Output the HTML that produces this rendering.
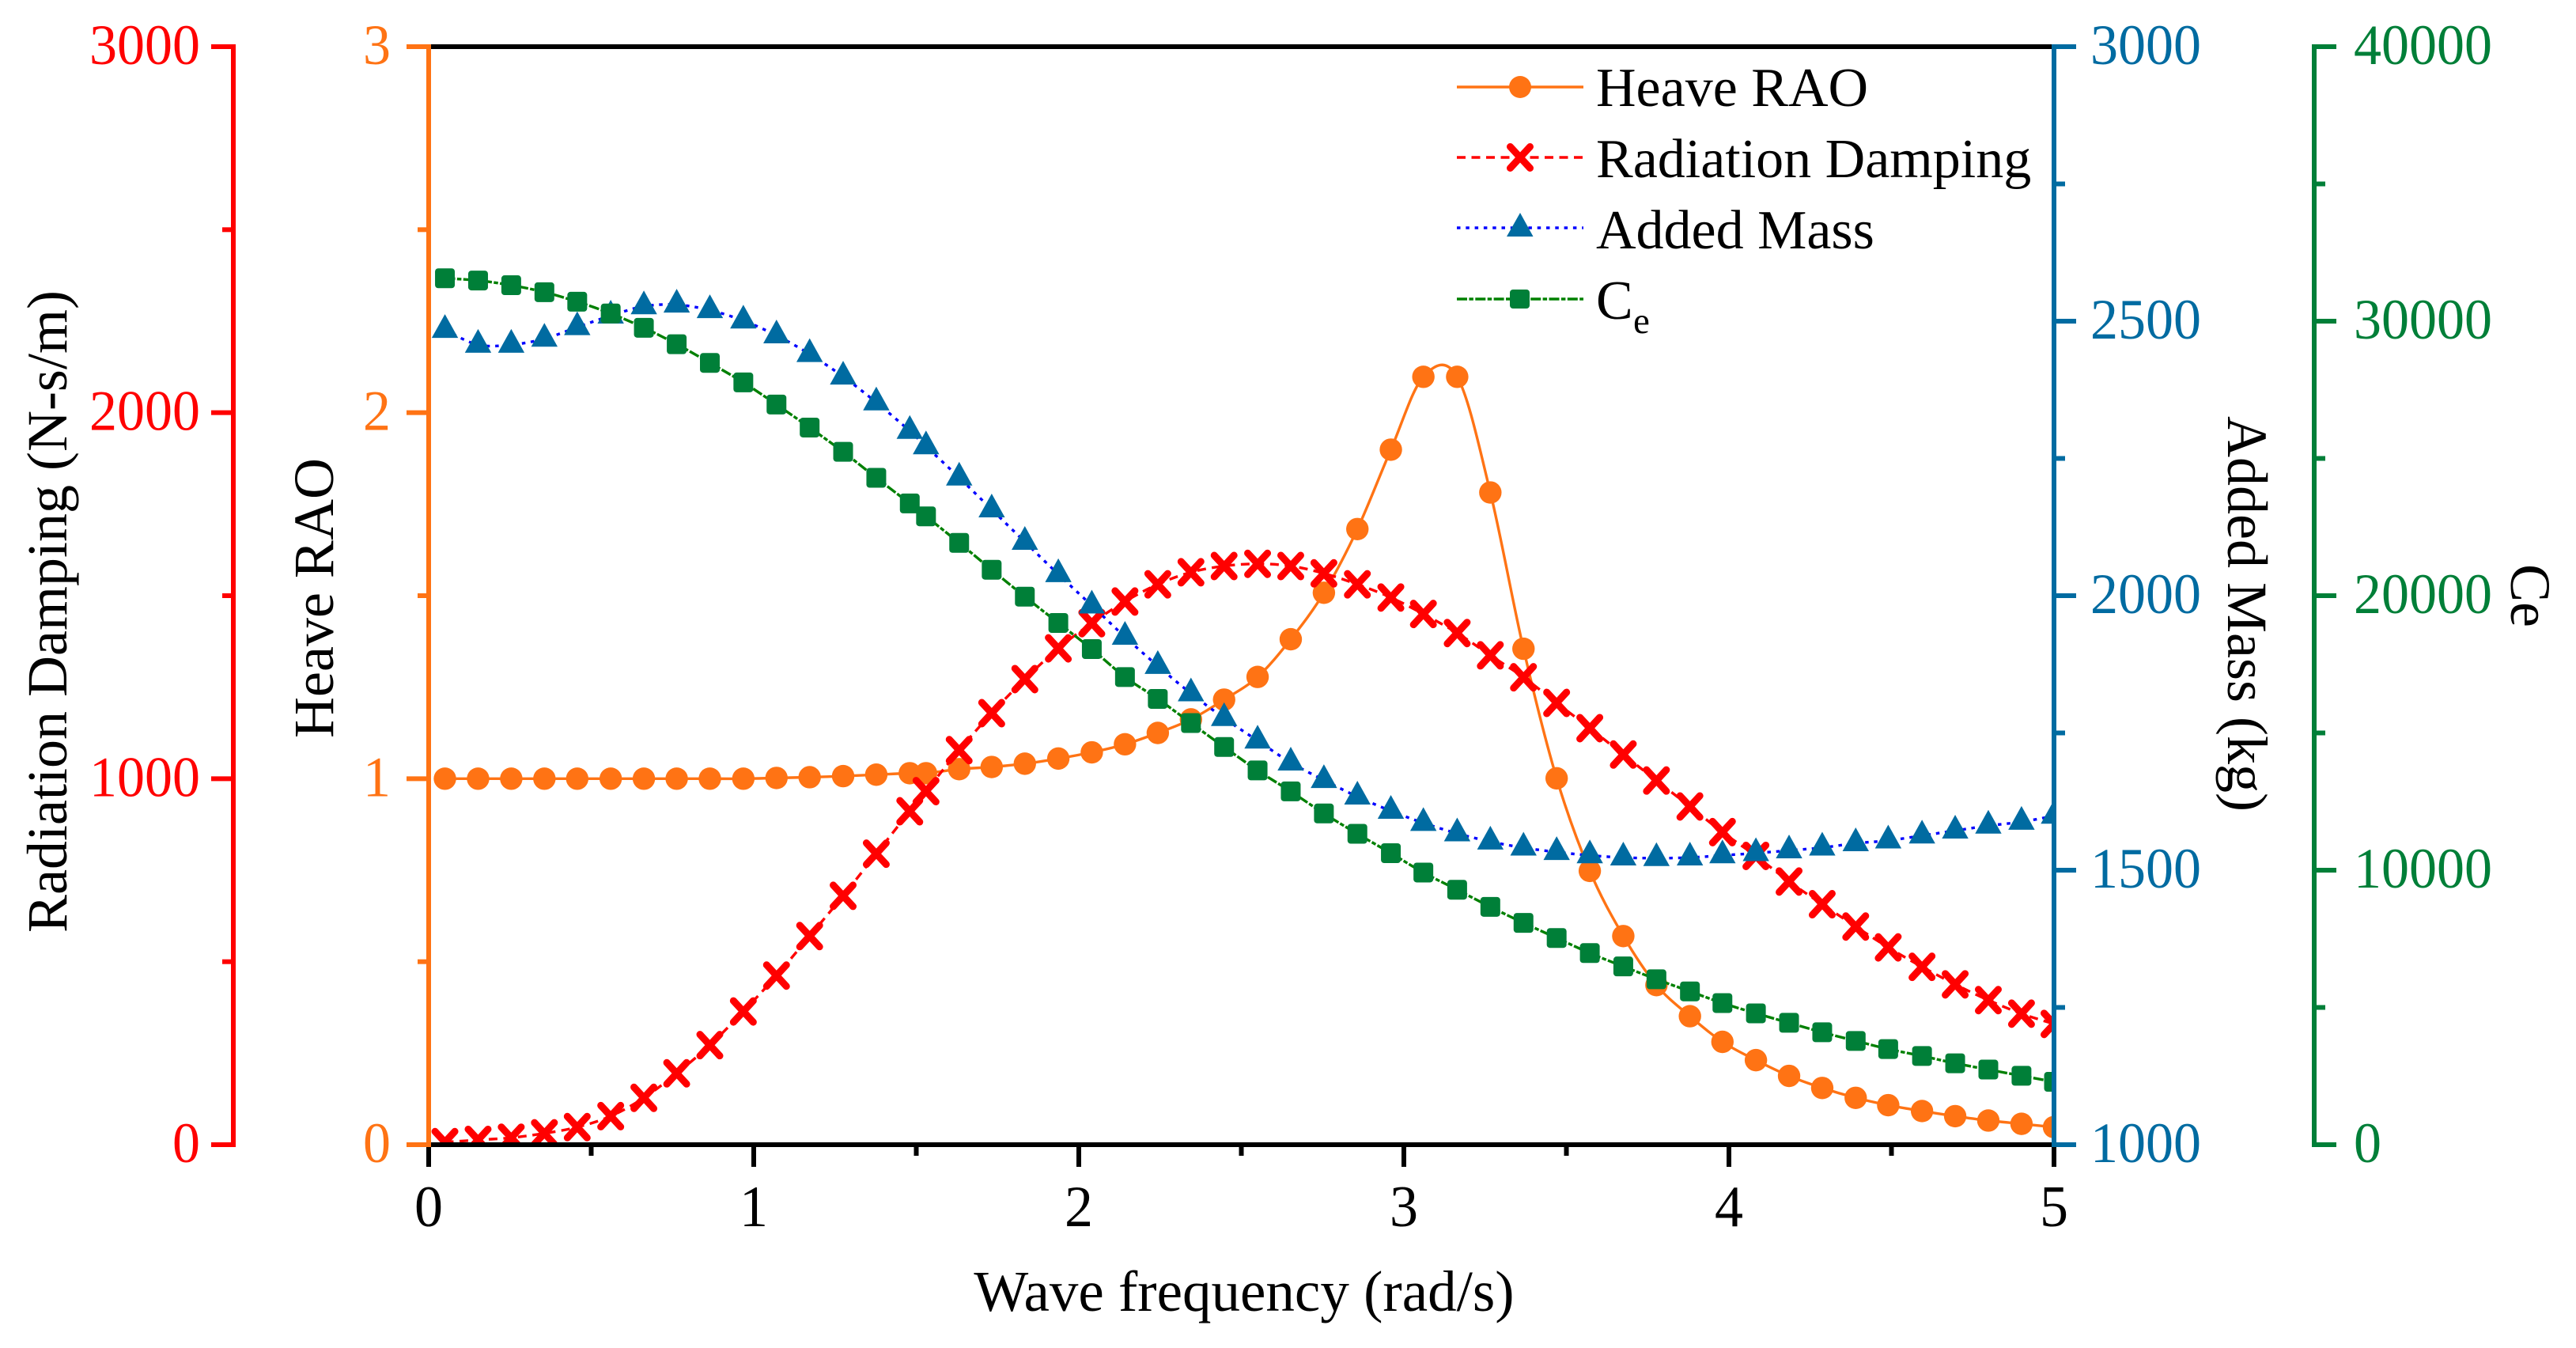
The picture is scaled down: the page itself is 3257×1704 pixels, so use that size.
<!DOCTYPE html>
<html lang="en">
<head>
<meta charset="utf-8">
<title>Heave RAO chart</title>
<style>
html,body{margin:0;padding:0;background:#fff;width:3257px;height:1704px;overflow:hidden}
svg{display:block}
text{font-family:"Liberation Serif",serif;font-size:70px}
.title{font-size:72px}
</style>
</head>
<body>
<svg id="chart" xmlns="http://www.w3.org/2000/svg" width="3257" height="1704" viewBox="0 0 3257 1704">
  <defs><clipPath id="plot-clip"><rect x="542" y="59" width="2055" height="1388"/></clipPath></defs>
  <rect x="0" y="0" width="3257" height="1704" fill="#fff"/>
  <g id="series" clip-path="url(#plot-clip)"></g>
  <g id="axes"></g>

  <text x="1573" y="1657" text-anchor="middle" fill="#000" style="font-size:73px">Wave frequency (rad/s)</text>
  <text class="title" transform="translate(84,773) rotate(-90)" text-anchor="middle" fill="#000">Radiation Damping (N-s/m)</text>
  <text class="title" transform="translate(421,756) rotate(-90)" text-anchor="middle" fill="#000">Heave RAO</text>
  <text class="title" transform="translate(2817,776) rotate(90)" text-anchor="middle" fill="#000">Added Mass (kg)</text>
  <text class="title" transform="translate(3175,753) rotate(90)" text-anchor="middle" fill="#000">Ce</text>

  <g>
    <g>
      <line x1="1842" y1="110" x2="2002" y2="110" stroke="#FF7314" stroke-width="3.4"/>
      <circle cx="1922" cy="110" r="14" fill="#FF7314"/>
      <text x="2018" y="134" fill="#000">Heave RAO</text>
    </g>
    <g>
      <line x1="1842" y1="199" x2="2002" y2="199" stroke="#FF0000" stroke-width="3.4" stroke-dasharray="11 7.5"/>
      <path d="M1909.5 185.5L1934.5 212.5M1934.5 185.5L1909.5 212.5" stroke="#FF0000" stroke-width="9" stroke-linecap="round" fill="none"/>
      <text x="2018" y="224" fill="#000">Radiation Damping</text>
    </g>
    <g>
      <line x1="1842" y1="288" x2="2002" y2="288" stroke="#0000FF" stroke-width="3.4" stroke-dasharray="4.5 6.8"/>
      <path d="M1922 269L1938.5 299L1905 299Z" fill="#006BA1"/>
      <text x="2018" y="314" fill="#000">Added Mass</text>
    </g>
    <g>
      <line x1="1842" y1="378" x2="2002" y2="378" stroke="#008000" stroke-width="3.4" stroke-dasharray="13 2.4 5.5 2.4"/>
      <rect x="1909" y="366" width="25" height="24" rx="4" fill="#007F38"/>
      <text x="2018" y="403" fill="#000">C</text>
      <text x="2065" y="421" fill="#000" style="font-size:47px">e</text>
    </g>
  </g>
</svg>
<script>
const frequency = [0.05,0.152,0.254,0.356,0.457,0.56,0.662,0.763,0.865,0.968,1.07,1.172,1.275,1.377,1.48,1.53,1.632,1.732,1.834,1.937,2.04,2.142,2.243,2.345,2.447,2.55,2.652,2.754,2.857,2.96,3.06,3.164,3.266,3.368,3.47,3.572,3.675,3.777,3.88,3.98,4.083,4.185,4.287,4.39,4.49,4.594,4.696,4.798,4.9,5.0];
const heaveRao = [1,1,1,1,1,1,1,1,1,1,1.002,1.004,1.007,1.011,1.015,1.015,1.026,1.032,1.041,1.055,1.072,1.094,1.125,1.162,1.216,1.278,1.381,1.508,1.682,1.899,2.098,2.098,1.782,1.355,1.001,0.748,0.57,0.436,0.351,0.281,0.231,0.188,0.155,0.128,0.108,0.092,0.078,0.066,0.057,0.048];
const radiationDamping = [7,13,19,31,48,78,128,195,272,364,462,570,680,795,911,966,1078,1179,1272,1356,1425,1484,1531,1564,1581,1587,1581,1561,1531,1495,1450,1398,1337,1277,1207,1138,1066,995,924,854,789,719,657,596,539,486,438,395,358,330];
const addedMass = [2484,2457,2457,2468,2489,2510,2527,2530,2520,2501,2474,2440,2399,2352,2300,2272,2215,2157,2098,2039,1982,1925,1872,1822,1777,1736,1696,1664,1634,1608,1586,1567,1552,1541,1533,1527,1523,1522,1523,1527,1531,1536,1541,1549,1554,1563,1572,1581,1588,1599];
const ce = [31563,31482,31310,31057,30708,30281,29760,29161,28481,27770,26964,26125,25241,24294,23360,22890,21924,20945,19965,19006,18055,17037,16240,15360,14488,13633,12870,12067,11326,10620,9915,9288,8665,8080,7530,6980,6494,6025,5585,5160,4785,4440,4095,3780,3485,3232,2966,2736,2510,2290];

const xTicks = [0,1,2,3,4,5];
const xMinorTicks = [0.5,1.5,2.5,3.5,4.5];
const dampingTicks = [0,1000,2000,3000];
const dampingMinorTicks = [500,1500,2500];
const raoTicks = [0,1,2,3];
const raoMinorTicks = [0.5,1.5,2.5];
const massTicks = [1000,1500,2000,2500,3000];
const massMinorTicks = [1250,1750,2250,2750];
const ceTicks = [0,10000,20000,30000,40000];
const ceMinorTicks = [5000,15000,25000,35000];

const NS = 'http://www.w3.org/2000/svg';
const PLOT = {left:542, right:2597, top:59, bottom:1447};
const COLORS = {rao:'#FF7314', damping:'#FF0000', massMark:'#006BA1', massLine:'#0000FF', ceMark:'#007F38', ceLine:'#008000'};

function xScale(v){ return PLOT.left + (v / 5) * (PLOT.right - PLOT.left); }
function yScale(v, min, max){ return PLOT.bottom - ((v - min) / (max - min)) * (PLOT.bottom - PLOT.top); }
const yRao = v => yScale(v, 0, 3);
const yDamping = v => yScale(v, 0, 3000);
const yMass = v => yScale(v, 1000, 3000);
const yCe = v => yScale(v, 0, 40000);

function make(tag, attrs){
  const e = document.createElementNS(NS, tag);
  for (const k in attrs) e.setAttribute(k, attrs[k]);
  return e;
}
function splinePath(xs, ys){
  const n = xs.length;
  let d = 'M' + xs[0].toFixed(2) + ' ' + ys[0].toFixed(2);
  for (let i = 0; i < n - 1; i++){
    const i0 = Math.max(0, i - 1), i3 = Math.min(n - 1, i + 2);
    const c1x = xs[i] + (xs[i + 1] - xs[i0]) / 6, c1y = ys[i] + (ys[i + 1] - ys[i0]) / 6;
    const c2x = xs[i + 1] - (xs[i3] - xs[i]) / 6, c2y = ys[i + 1] - (ys[i3] - ys[i]) / 6;
    d += 'C' + c1x.toFixed(2) + ' ' + c1y.toFixed(2) + ' ' + c2x.toFixed(2) + ' ' + c2y.toFixed(2) + ' ' + xs[i + 1].toFixed(2) + ' ' + ys[i + 1].toFixed(2);
  }
  return d;
}

const seriesLayer = document.getElementById('series');
const axesLayer = document.getElementById('axes');
const xPix = frequency.map(xScale);

/* Heave RAO */
const raoLine = make('path', {d: splinePath(xPix, heaveRao.map(yRao)), fill:'none', stroke:COLORS.rao, 'stroke-width':3.4});


seriesLayer.appendChild(raoLine);
heaveRao.forEach((v, i) => {
  const c = make('circle', {cx:xPix[i], cy:yRao(v), r:14.2, fill:COLORS.rao});
  
  
  seriesLayer.appendChild(c);
});

/* Radiation damping */
const dampingLine = make('path', {d: splinePath(xPix, radiationDamping.map(yDamping)), fill:'none', stroke:COLORS.damping, 'stroke-width':3.4, 'stroke-dasharray':'11 7.5'});


seriesLayer.appendChild(dampingLine);
radiationDamping.forEach((v, i) => {
  const x = xPix[i], y = yDamping(v);
  const p = make('path', {d:'M'+(x-12.5)+' '+(y-13.5)+'L'+(x+12.5)+' '+(y+13.5)+'M'+(x+12.5)+' '+(y-13.5)+'L'+(x-12.5)+' '+(y+13.5), fill:'none', stroke:COLORS.damping, 'stroke-width':9, 'stroke-linecap':'round'});
  
  
  seriesLayer.appendChild(p);
});

/* Added mass */
const massLine = make('path', {d: splinePath(xPix, addedMass.map(yMass)), fill:'none', stroke:COLORS.massLine, 'stroke-width':3.4, 'stroke-dasharray':'4.5 6.8'});


seriesLayer.appendChild(massLine);
addedMass.forEach((v, i) => {
  const x = xPix[i], y = yMass(v);
  const p = make('path', {d:'M'+x+' '+(y-20)+'L'+(x+16.7)+' '+(y+10)+'L'+(x-16.7)+' '+(y+10)+'Z', fill:COLORS.massMark});
  
  
  seriesLayer.appendChild(p);
});

/* Ce */
const ceLine = make('path', {d: splinePath(xPix, ce.map(yCe)), fill:'none', stroke:COLORS.ceLine, 'stroke-width':3.4, 'stroke-dasharray':'13 2.4 5.5 2.4'});


seriesLayer.appendChild(ceLine);
ce.forEach((v, i) => {
  const r = make('rect', {x:xPix[i]-12.5, y:yCe(v)-12.5, width:25, height:25, rx:4, fill:COLORS.ceMark});
  
  
  seriesLayer.appendChild(r);
});

/* Frame: top and bottom black lines */
const topLine = make('line', {x1:PLOT.left, y1:PLOT.top, x2:PLOT.right, y2:PLOT.top, stroke:'#000', 'stroke-width':6});


axesLayer.appendChild(topLine);
const bottomLine = make('line', {x1:PLOT.left, y1:PLOT.bottom, x2:PLOT.right, y2:PLOT.bottom, stroke:'#000', 'stroke-width':6});


axesLayer.appendChild(bottomLine);

/* X ticks */
xTicks.forEach(v => {
  const t = make('line', {x1:xScale(v), y1:PLOT.bottom, x2:xScale(v), y2:1475, stroke:'#000', 'stroke-width':6});
  
  
  axesLayer.appendChild(t);
  const l = make('text', {transform:'translate(' + xScale(v) + ',1550) scale(1,1.03)', 'text-anchor':'middle', fill:'#000', style:'font-size:72px'});
  l.textContent = String(v);
  
  
  axesLayer.appendChild(l);
});
xMinorTicks.forEach(v => {
  const t = make('line', {x1:xScale(v), y1:PLOT.bottom, x2:xScale(v), y2:1461, stroke:'#000', 'stroke-width':6});
  
  
  axesLayer.appendChild(t);
});

/* Y axes */
function drawYAxis(group, axisX, dir, color, ticks, minors, scale, labelX, anchor){
  const line = make('line', {x1:axisX, y1:PLOT.top-3, x2:axisX, y2:PLOT.bottom+3, stroke:color, 'stroke-width':6});
  
  
  group.appendChild(line);
  ticks.forEach(v => {
    const t = make('line', {x1:axisX, y1:scale(v), x2:axisX + dir*28, y2:scale(v), stroke:color, 'stroke-width':6});
    
    
    group.appendChild(t);
    const l = make('text', {transform:'translate(' + labelX + ',' + (scale(v)+22) + ') scale(1,1.03)', 'text-anchor':anchor, fill:color});
    l.textContent = String(v);
    
    
    group.appendChild(l);
  });
  minors.forEach(v => {
    const t = make('line', {x1:axisX, y1:scale(v), x2:axisX + dir*14, y2:scale(v), stroke:color, 'stroke-width':6});
    
    
    group.appendChild(t);
  });
}
const dampingAxis = make('g', {});


axesLayer.appendChild(dampingAxis);
drawYAxis(dampingAxis, 295, -1, COLORS.damping, dampingTicks, dampingMinorTicks, yDamping, 253, 'end');

const raoAxis = make('g', {});


axesLayer.appendChild(raoAxis);
drawYAxis(raoAxis, 542, -1, COLORS.rao, raoTicks, raoMinorTicks, yRao, 494, 'end');

const massAxis = make('g', {});


axesLayer.appendChild(massAxis);
drawYAxis(massAxis, 2597, 1, COLORS.massMark, massTicks, massMinorTicks, yMass, 2643, 'start');

const ceAxis = make('g', {});


axesLayer.appendChild(ceAxis);
drawYAxis(ceAxis, 2926, 1, COLORS.ceMark, ceTicks, ceMinorTicks, yCe, 2976, 'start');
</script>
</body>
</html>
